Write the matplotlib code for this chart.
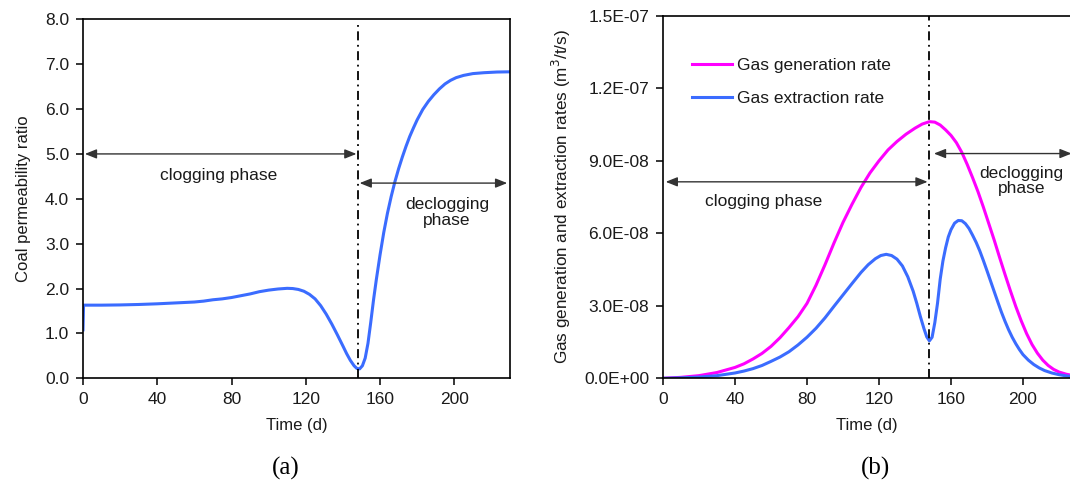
import matplotlib
matplotlib.use("Agg")
import matplotlib.pyplot as plt
from matplotlib.ticker import FuncFormatter, MultipleLocator
import numpy as np

plt.rcParams["font.family"] = ["Liberation Sans", "DejaVu Sans"]

# ---- (a) coal permeability ratio vs time ----
time_a = [0, 0.3, 10, 20, 30, 40, 50, 60, 65, 70, 75, 80, 85, 90, 95, 100, 105,
          110, 113, 116, 119, 122, 125, 128, 131, 134, 137, 140, 142, 144, 146,
          147.5, 149, 150.5, 152, 153.5, 155, 156.5, 158, 160, 162, 164, 166,
          168, 170, 172, 174, 176, 178, 180, 183, 186, 189, 192, 195, 198, 201,
          205, 210, 216, 223, 230]
perm_ratio = [1.08, 1.63, 1.63, 1.635, 1.645, 1.66, 1.68, 1.70, 1.72, 1.75, 1.77,
              1.80, 1.84, 1.88, 1.93, 1.965, 1.99, 2.005, 2.00, 1.98, 1.94, 1.87,
              1.77, 1.62, 1.43, 1.21, 0.97, 0.72, 0.55, 0.40, 0.28, 0.22, 0.21,
              0.28, 0.45, 0.78, 1.25, 1.75, 2.20, 2.75, 3.25, 3.68, 4.05, 4.38,
              4.67, 4.93, 5.17, 5.39, 5.58, 5.76, 5.99, 6.17, 6.32, 6.45, 6.56,
              6.64, 6.70, 6.75, 6.79, 6.81, 6.825, 6.83]

# ---- (b) gas generation / extraction rates vs time, in units of 1e-8 m3/t/s ----
time_gen = [0, 10, 20, 30, 40, 45, 50, 55, 60, 65, 70, 75, 80, 85, 90, 95, 100,
            105, 110, 115, 120, 125, 130, 135, 140, 144, 148, 151, 154, 157, 160,
            163, 166, 169, 172, 175, 178, 181, 184, 187, 190, 193, 196, 199, 202,
            205, 208, 211, 214, 217, 220, 224, 228]
gen_rate = [0.0, 0.04, 0.11, 0.24, 0.45, 0.60, 0.80, 1.03, 1.32, 1.68, 2.10, 2.55,
            3.10, 3.85, 4.70, 5.60, 6.45, 7.20, 7.90, 8.50, 9.00, 9.45, 9.80,
            10.10, 10.35, 10.52, 10.62, 10.60, 10.48, 10.28, 10.05, 9.75, 9.35,
            8.85, 8.30, 7.72, 7.08, 6.40, 5.72, 5.00, 4.30, 3.62, 2.97, 2.38,
            1.85, 1.40, 1.04, 0.75, 0.53, 0.37, 0.26, 0.17, 0.11]
time_ext = [0, 10, 20, 30, 40, 45, 50, 55, 60, 65, 70, 75, 80, 85, 90, 95, 100,
            105, 110, 114, 118, 121, 124, 127, 130, 133, 136, 139, 141, 143, 145,
            146.5, 148, 149.5, 151, 152.5, 154, 155.5, 157, 158.5, 160, 162, 164,
            166, 168, 170, 172, 174, 176, 178, 180, 182, 184, 186, 188, 190, 192,
            194, 196, 198, 200, 203, 206, 209, 212, 216, 220, 224, 228]
ext_rate = [0.0, 0.02, 0.05, 0.11, 0.22, 0.30, 0.40, 0.53, 0.70, 0.88, 1.10, 1.38,
            1.70, 2.07, 2.50, 2.98, 3.45, 3.92, 4.38, 4.70, 4.95, 5.08, 5.13,
            5.08, 4.93, 4.65, 4.20, 3.60, 3.10, 2.55, 2.05, 1.72, 1.55, 1.70,
            2.30, 3.10, 4.10, 4.85, 5.40, 5.85, 6.15, 6.42, 6.53, 6.52, 6.40,
            6.20, 5.92, 5.62, 5.27, 4.87, 4.45, 4.02, 3.59, 3.16, 2.74, 2.36,
            2.01, 1.70, 1.43, 1.19, 0.98, 0.75, 0.57, 0.43, 0.32, 0.22, 0.15,
            0.10, 0.07]
rate_scale = 1e-8

switch_day = 148

BLUE = "#3B6CFF"
MAGENTA = "#FF00FF"
TXT = "#1a1a1a"
ARROW = "#333333"

W, H = 1070, 490
fig = plt.figure(figsize=(W / 100, H / 100), dpi=100)


def px_axes(x0, x1, ytop, ybot):
    return fig.add_axes([x0 / W, (H - ybot) / H, (x1 - x0) / W, (ybot - ytop) / H])


def style_axes(ax):
    for s in ax.spines.values():
        s.set_linewidth(1.2)
        s.set_color("black")
    ax.tick_params(direction="out", length=5, width=1.1, labelsize=12.5,
                   colors="black", labelcolor=TXT, pad=5)


def double_arrow(ax, x0, x1, y):
    ax.annotate("", xy=(x1, y), xytext=(x0, y),
                arrowprops=dict(arrowstyle="<|-|>,head_length=0.7,head_width=0.28",
                                color=ARROW, lw=1.0, shrinkA=0, shrinkB=0),
                annotation_clip=False)


dashdot = (0, (5, 2.5, 1, 2.5))

# ---------------- panel (a) ----------------
ax1 = px_axes(83, 510, 19.3, 378.3)
style_axes(ax1)
ax1.plot(time_a, perm_ratio, color=BLUE, lw=2.2, solid_joinstyle="round")
ax1.set_xlim(0, 230)
ax1.set_ylim(0, 8)
ax1.xaxis.set_major_locator(MultipleLocator(40))
ax1.yaxis.set_major_locator(MultipleLocator(1))
ax1.yaxis.set_major_formatter(FuncFormatter(lambda v, p: f"{v:.1f}"))
ax1.axvline(switch_day, ymax=0.985, color="black", lw=1.3, ls=dashdot)
ax1.set_xlabel("Time (d)", fontsize=12, color=TXT, labelpad=8)
ax1.set_ylabel("Coal permeability ratio", fontsize=12, color=TXT, labelpad=10)
double_arrow(ax1, 1, 147.3, 5.0)
double_arrow(ax1, 149, 228.5, 4.35)
ax1.text(73, 4.53, "clogging phase", ha="center", va="center", fontsize=12.5, color=TXT)
ax1.text(196, 3.7, "declogging\nphase", ha="center", va="center", fontsize=12.5,
         color=TXT, linespacing=1.05)

# ---------------- panel (b) ----------------
ax2 = px_axes(663, 1070, 15.8, 378.3)
style_axes(ax2)
ax2.spines["right"].set_visible(False)
ax2.plot(time_gen, np.array(gen_rate) * rate_scale, color=MAGENTA, lw=2.2,
         solid_joinstyle="round", label="Gas generation rate")
ax2.plot(time_ext, np.array(ext_rate) * rate_scale, color=BLUE, lw=2.2,
         solid_joinstyle="round", label="Gas extraction rate")
ax2.set_xlim(0, 407 / 1.8)
ax2.set_ylim(0, 1.5e-7)
ax2.xaxis.set_major_locator(MultipleLocator(40))
ax2.yaxis.set_major_locator(MultipleLocator(3e-8))
ax2.yaxis.set_major_formatter(FuncFormatter(lambda v, p: f"{v:.1E}"))
ax2.axvline(switch_day, color="black", lw=1.3, ls=dashdot)
ax2.set_xlabel("Time (d)", fontsize=12, color=TXT, labelpad=8)
ax2.set_ylabel("Gas generation and extraction rates (m$^3$/t/s)", fontsize=12.3,
               color=TXT, labelpad=8)
double_arrow(ax2, 1.5, 147, 8.13e-8)
double_arrow(ax2, 150.5, 227, 9.3e-8)
ax2.text(56, 7.33e-8, "clogging phase", ha="center", va="center", fontsize=12.5, color=TXT)
ax2.text(199, 8.17e-8, "declogging\nphase", ha="center", va="center", fontsize=12.5,
         color=TXT, linespacing=1.05)
leg = ax2.legend(loc="upper left", bbox_to_anchor=(0.055, 0.902), frameon=False,
                 fontsize=12.5, handlelength=2.3, handletextpad=0.3,
                 labelspacing=1.0, borderaxespad=0)
for t in leg.get_texts():
    t.set_color(TXT)

# panel captions
fig.text(286 / W, 1 - 468 / H, "(a)", ha="center", va="center", fontsize=18,
         family=["Liberation Serif", "DejaVu Serif"], color="black")
fig.text(875 / W, 1 - 468 / H, "(b)", ha="center", va="center", fontsize=18,
         family=["Liberation Serif", "DejaVu Serif"], color="black")

fig.savefig("out.png", dpi=100)
